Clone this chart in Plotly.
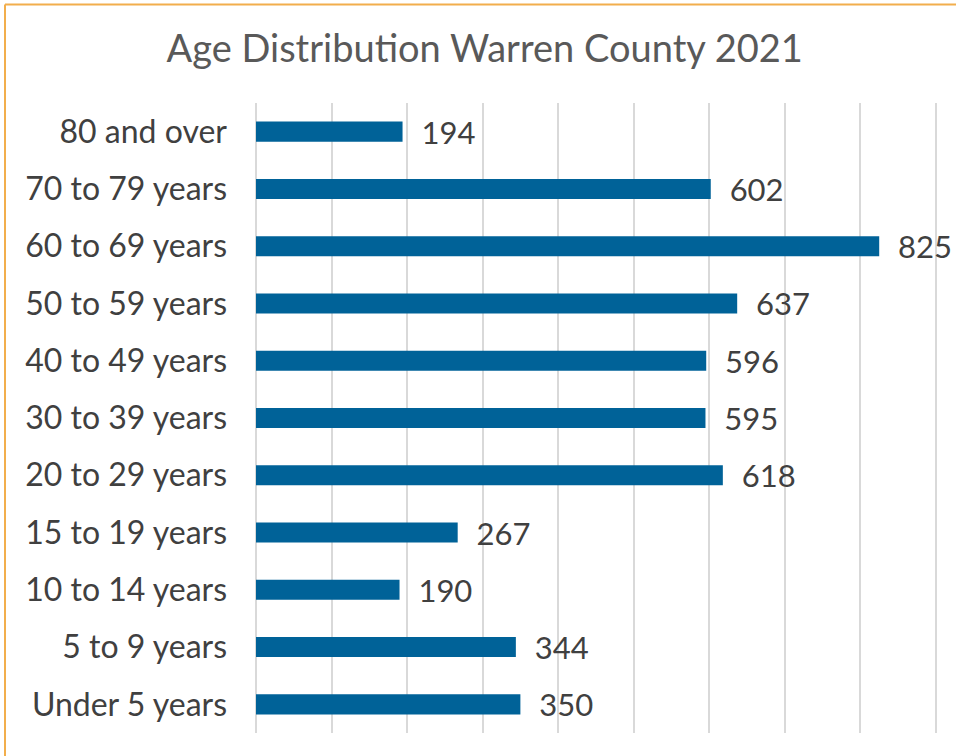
import plotly.graph_objects as go

categories = ["Under 5 years", "5 to 9 years", "10 to 14 years", "15 to 19 years",
              "20 to 29 years", "30 to 39 years", "40 to 49 years", "50 to 59 years",
              "60 to 69 years", "70 to 79 years", "80 and over"]
values = [350, 344, 190, 267, 618, 595, 596, 637, 825, 602, 194]
x_ticks = [0, 100, 200, 300, 400, 500, 600, 700, 800, 900]

FONT = "Lato, 'Open Sans', sans-serif"
TXT = "#595959"

fig = go.Figure(go.Bar(
    y=categories, x=values, orientation="h",
    marker=dict(color="#006298", line=dict(width=0)),
    text=["\u00a0\u00a0" + str(v) for v in values], textposition="outside",
    textfont=dict(family=FONT, size=31, color="#404040"),
    constraintext="none",
    cliponaxis=False, width=0.35,
))

fig.update_layout(
    width=956, height=756,
    margin=dict(l=256, r=19, t=103, b=23, autoexpand=False),
    paper_bgcolor="white", plot_bgcolor="white",
    title=dict(text="Age Distribution Warren County 2021", x=0.507, xanchor="center",
               y=0.935, yanchor="middle",
               font=dict(family=FONT, size=38, color=TXT)),
    showlegend=False,
    xaxis=dict(range=[0, 901.5], tickvals=x_ticks, showticklabels=False,
               showgrid=True, gridcolor="#D9D9D9", gridwidth=2,
               zeroline=True, zerolinecolor="#D9D9D9", zerolinewidth=2,
               showline=False, automargin=False),
    yaxis=dict(categoryorder="array", categoryarray=categories,
               tickfont=dict(family=FONT, size=32, color="#404040"),
               showgrid=False, ticks="", ticklabelstandoff=28, showline=False,
               automargin=False),
    shapes=[
        dict(type="line", xref="paper", yref="paper",
             x0=(5 - 256) / 681, x1=1.05, y0=1 + (103 - 4.5) / 630, y1=1 + (103 - 4.5) / 630,
             line=dict(color="#F2AE4C", width=2)),
        dict(type="line", xref="paper", yref="paper",
             x0=(5 - 256) / 681, x1=(5 - 256) / 681, y0=1 + (103 - 4.5) / 630, y1=-0.1,
             line=dict(color="#F2AE4C", width=2)),
    ],
)

fig.write_html("out.html", config={"displayModeBar": False},
               post_script="document.body.style.margin='0';")
